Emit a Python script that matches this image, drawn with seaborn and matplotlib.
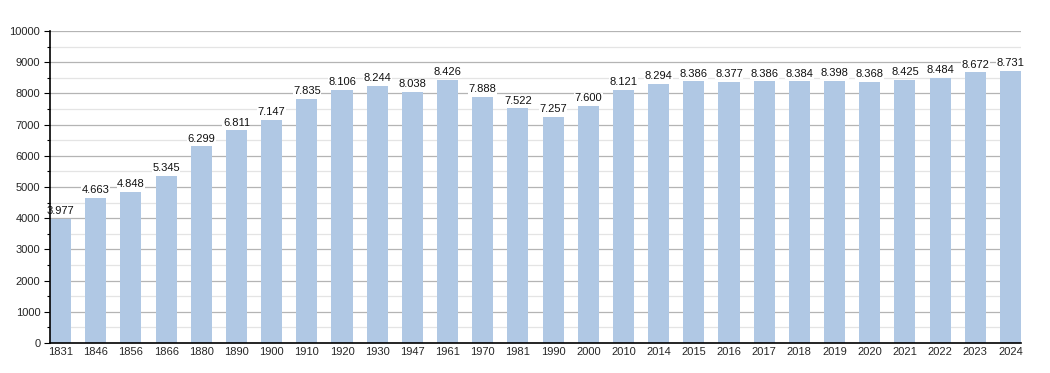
import matplotlib
matplotlib.use("Agg")
import matplotlib.pyplot as plt
import seaborn as sns
import pandas as pd
from matplotlib.ticker import MultipleLocator

years = ["1831", "1846", "1856", "1866", "1880", "1890", "1900", "1910", "1920", "1930",
         "1947", "1961", "1970", "1981", "1990", "2000", "2010", "2014", "2015", "2016",
         "2017", "2018", "2019", "2020", "2021", "2022", "2023", "2024"]
population = [3977, 4663, 4848, 5345, 6299, 6811, 7147, 7835, 8106, 8244,
              8038, 8426, 7888, 7522, 7257, 7600, 8121, 8294, 8386, 8377,
              8386, 8384, 8398, 8368, 8425, 8484, 8672, 8731]

df = pd.DataFrame({"year": years, "pop": population})

sns.set_style("white")
plt.rcParams['font.family'] = ['Liberation Sans', 'DejaVu Sans']

fig = plt.figure(figsize=(10.5, 3.73), dpi=100)
ax = fig.add_axes([50/1050, 1-343/373, (1021-50)/1050, (343-31)/373])

sns.barplot(data=df, x="year", y="pop", color="#b0c8e4", width=0.6,
            saturation=1, ax=ax, zorder=3, linewidth=0, edgecolor="none")

ax.set_xlim(-0.3, len(years) - 0.7)
ax.set_ylim(0, 10000)
ax.yaxis.set_major_locator(MultipleLocator(1000))
ax.yaxis.set_minor_locator(MultipleLocator(500))
ax.grid(which="major", axis="y", color="#b4b4b4", linewidth=0.9, zorder=0)
ax.grid(which="minor", axis="y", color="#e4e4e4", linewidth=0.9, zorder=0)
ax.set_axisbelow(True)

for s in ["top", "right"]:
    ax.spines[s].set_visible(False)
for s in ["left", "bottom"]:
    ax.spines[s].set_color("black")
    ax.spines[s].set_linewidth(1.2)
    ax.spines[s].set_zorder(5)

ax.tick_params(axis="y", which="major", length=4, width=0.8, color="black",
               labelsize=8, pad=3, left=True)
ax.tick_params(axis="y", which="minor", length=2, width=0.8, color="black", left=True)
ax.tick_params(axis="x", length=0, labelsize=8, pad=3)
ax.set_xlabel("")
ax.set_ylabel("")

for i, v in enumerate(population):
    lbl = f"{v:,}".replace(",", ".")
    ax.text(i, v + 90, lbl, ha="center", va="bottom", fontsize=8, color="#111111",
            zorder=4, bbox=dict(facecolor="white", edgecolor="none", pad=0.3))

fig.savefig("out.png", dpi=100)
